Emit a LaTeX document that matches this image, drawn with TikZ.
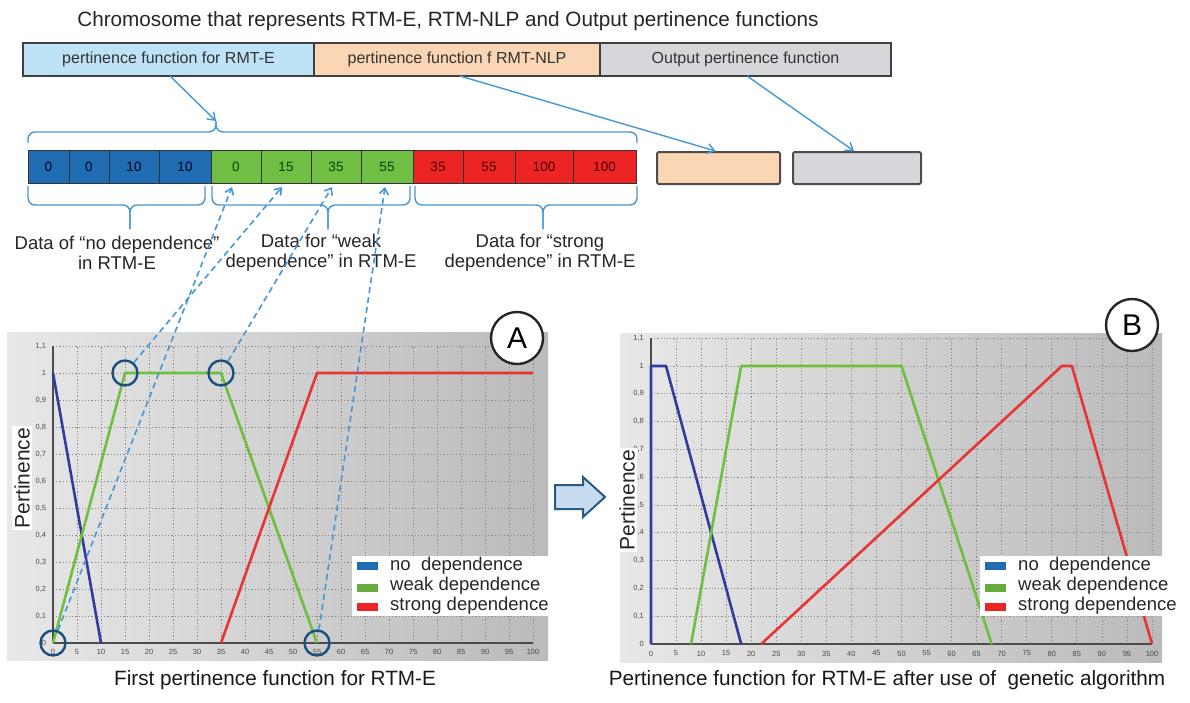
\documentclass[tikz,border=0pt]{standalone}
\usepackage{fontspec}
\setmainfont{Liberation Sans}
\usetikzlibrary{arrows.meta}
\newcommand{\myfs}[1]{\fontsize{#1}{#1}\selectfont}
\definecolor{cellblue}{RGB}{31,108,178}
\definecolor{cellgreen}{RGB}{112,190,68}
\definecolor{cellred}{RGB}{236,36,36}
\definecolor{barblue}{RGB}{190,226,246}
\definecolor{barorange}{RGB}{250,214,180}
\definecolor{bargrey}{RGB}{214,215,218}
\definecolor{linkblue}{RGB}{70,152,212}
\definecolor{circblue}{RGB}{25,80,125}
\definecolor{fnavy}{RGB}{50,58,160}
\definecolor{fgreen}{RGB}{108,192,62}
\definecolor{fred}{RGB}{232,52,52}
\definecolor{arrfill}{RGB}{200,220,240}
\definecolor{arrdraw}{RGB}{40,90,130}
\begin{document}
\begin{tikzpicture}[x=1pt,y=-1pt,
  barbox/.style={draw=black!75, line width=1.3pt, minimum height=33pt, inner sep=0pt, outer sep=0pt, font=\myfs{16}, text=black!80},
  cell/.style={draw=black!80, line width=1pt, minimum height=33pt, inner sep=0pt, outer sep=0pt, font=\myfs{13.5}},
  smallbox/.style={draw=black!70, line width=2pt, rounded corners=1.5pt, minimum height=32pt, inner sep=0pt},
  link/.style={draw=linkblue, line width=1.4pt, -{Straight Barb[length=7pt,width=10pt]}},
  bracel/.style={draw=linkblue, line width=1.4pt, rounded corners=7pt},
  dasharrow/.style={draw=linkblue, line width=1.6pt, dash pattern=on 6pt off 4pt, -{Straight Barb[length=6pt,width=9pt]}},
  lab/.style={align=center, font=\fontsize{18.5}{20}\selectfont, text=black!85, inner sep=0pt},
  gridl/.style={draw=black!45, line width=0.8pt, dash pattern=on 1.2pt off 2pt},
  axisl/.style={draw=black!70, line width=2pt},
  fcurve/.style={line width=2.6pt, line join=round},
  hl/.style={circle, draw=circblue, line width=2.4pt, minimum size=25pt, inner sep=0pt},
  tagc/.style={circle, draw=black!85, fill=white, line width=2.4pt, minimum size=52pt, inner sep=0pt, font=\myfs{30}},
  ticklab/.style={font=\myfs{7.5}, text=black!70, inner sep=1pt},
  legtxt/.style={anchor=west, font=\myfs{18.5}, text=black!85, inner sep=0pt},
  ylab/.style={rotate=90, fill=white, font=\myfs{21}, text=black!85, inner sep=2pt},
  capt/.style={font=\myfs{20.7}, text=black!90, inner sep=0pt},
]
\useasboundingbox (0,0) rectangle (1190,702);
\fill[white] (0,0) rectangle (1190,702);

% title
\node[font=\myfs{20.7}, text=black!85] (title) at (448,21) {Chromosome that represents RTM-E, RTM-NLP and Output pertinence functions};

% top bar
\node[barbox, fill=barblue, minimum width=291pt] (bar1) at (168.5,59.5) {pertinence function for RMT-E};
\node[barbox, fill=barorange, minimum width=286pt] (bar2) at (457,59.5) {pertinence function f RMT-NLP};
\node[barbox, fill=bargrey, minimum width=291pt] (bar3) at (745.5,59.5) {Output pertinence function};

% data cells
\node[cell, fill=cellblue, text=black!85!blue, minimum width=41pt] (b1) at (48.5,166.5) {0};
\node[cell, fill=cellblue, text=black!85!blue, minimum width=40pt] (b2) at (89,166.5) {0};
\node[cell, fill=cellblue, text=black!85!blue, minimum width=50pt] (b3) at (134,166.5) {10};
\node[cell, fill=cellblue, text=black!85!blue, minimum width=52pt] (b4) at (185,166.5) {10};
\node[cell, fill=cellgreen, text=black!70!green, minimum width=50pt] (g1) at (236,166.5) {0};
\node[cell, fill=cellgreen, text=black!70!green, minimum width=50pt] (g2) at (286,166.5) {15};
\node[cell, fill=cellgreen, text=black!70!green, minimum width=50pt] (g3) at (336,166.5) {35};
\node[cell, fill=cellgreen, text=black!70!green, minimum width=52pt] (g4) at (387,166.5) {55};
\node[cell, fill=cellred, text=black!70!red, minimum width=50pt] (r1) at (438,166.5) {35};
\node[cell, fill=cellred, text=black!70!red, minimum width=52pt] (r2) at (489,166.5) {55};
\node[cell, fill=cellred, text=black!70!red, minimum width=58pt] (r3) at (544,166.5) {100};
\node[cell, fill=cellred, text=black!70!red, minimum width=63pt] (r4) at (604.5,166.5) {100};

% small boxes
\node[smallbox, fill=barorange, minimum width=123pt] (ob) at (718.5,168) {};
\node[smallbox, fill=bargrey, minimum width=128pt] (gb) at (857,168) {};

% braces
\coordinate (tipT) at (216,121);
\draw[bracel] (28,143) |- (216,132) -- (tipT);
\draw[bracel] (637,143) |- (216,132) -- (tipT);
\draw[bracel] (28,186) |- (130,205) -- (130,229);
\draw[bracel] (205,186) |- (130,205) -- (130,229);
\draw[bracel] (212,186) |- (328,205) -- (328,229);
\draw[bracel] (410,186) |- (328,205) -- (328,229);
\draw[bracel] (415,186) |- (543,205) -- (543,229);
\draw[bracel] (637,186) |- (543,205) -- (543,229);

% links from top bar
\draw[link] ([xshift=1.5pt]bar1.south) -- (tipT);
\draw[link] ([xshift=3pt]bar2.south) -- ([xshift=-3pt]ob.north);
\draw[link] ([xshift=1.5pt]bar3.south) -- ([xshift=-3pt]gb.north);

% brace labels
\node[lab] (l1) at (117,253) {Data of “no dependence”\\in RTM-E};
\node[lab] (l2) at (321,253) {Data for “weak\\dependence” in RTM-E};
\node[lab] (l3) at (540,253) {Data for “strong\\dependence” in RTM-E};

% ---------------- chart A ----------------
\fill[left color=black!9, right color=black!27] (7,332) rectangle (548,660);
\begin{scope}[shift={(53,643)}, xscale=4.8, yscale=-270]
  \foreach \u in {5,10,...,100} \draw[gridl] (\u,0) -- (\u,1.1);
  \foreach \k in {1,...,11} \draw[gridl] (0,{\k/10}) -- (100,{\k/10});
  \draw[axisl] (0,0) -- (0,1.1);
  \draw[axisl] (0,0) -- (100,0);
  \foreach \k/\l in {0/0,1/{0,1},2/{0,2},3/{0,3},4/{0,4},5/{0,5},6/{0,6},7/{0,7},8/{0,8},9/{0,9},10/1,11/{1,1}}
    \node[ticklab, anchor=east] (ya\k) at (-1.2,{\k/10}) {\l};
  \foreach \u in {0,5,...,100}
    \node[ticklab, anchor=north] (xa\u) at (\u,-0.02) {\u};
  \draw[fcurve, fnavy] (0,1) -- (10,0);
  \draw[fcurve, fgreen] (0,0) -- (15,1) -- (35,1) -- (55,0);
  \draw[fcurve, fred] (35,0) -- (55,1) -- (100,1);
  \node[hl] (ca1) at (0,0) {};
  \node[hl] (ca2) at (15,1) {};
  \node[hl] (ca3) at (35,1) {};
  \node[hl] (ca4) at (55,0) {};
\end{scope}
\node[tagc] (tagA) at (517,338) {A};
\node[ylab] (pa) at (22,478) {Pertinence};
% legend A
\fill[white] (352,556) rectangle (556,616);
\fill[cellblue] (357,562) rectangle (378,570);
\fill[cellgreen!90!black] (357,584) rectangle (378,592);
\fill[cellred] (357,603) rectangle (378,611);
\node[legtxt] (la1) at (390,566) {no\ \ dependence};
\node[legtxt] (la2) at (390,586) {weak dependence};
\node[legtxt] (la3) at (390,606) {strong dependence};
\node[capt] (capA) at (275,680) {First pertinence function for RTM-E};

% ---------------- chart B ----------------
\fill[left color=black!9, right color=black!27] (620,333) rectangle (1162,662);
\begin{scope}[shift={(651,644)}, xscale=5.01, yscale=-278]
  \foreach \u in {5,10,...,100} \draw[gridl] (\u,0) -- (\u,1.1);
  \foreach \k in {1,...,11} \draw[gridl] (0,{\k/10}) -- (100,{\k/10});
  \draw[axisl] (0,0) -- (0,1.1);
  \draw[axisl] (0,0) -- (100,0);
  \foreach \k/\l in {0/0,1/{0,1},2/{0,2},3/{0,3},4/{0,4},5/{0,5},6/{0,6},7/{0,7},8/{0,8},9/{0,9},10/1,11/{1,1}}
    \node[ticklab, anchor=east] (yb\k) at (-1.2,{\k/10}) {\l};
  \foreach \u in {0,5,...,100}
    \node[ticklab, anchor=north] (xb\u) at (\u,-0.02) {\u};
  \draw[fcurve, fnavy] (0,0) -- (0,1) -- (3,1) -- (18,0);
  \draw[fcurve, fgreen] (8,0) -- (18,1) -- (50,1) -- (68,0);
  \draw[fcurve, fred] (22,0) -- (82,1) -- (84,1) -- (100,0);
\end{scope}
\node[tagc] (tagB) at (1132,325) {B};
\node[ylab] (pb) at (627,500) {Pertinence};
% legend B
\fill[white] (980,556) rectangle (1185,616);
\fill[cellblue] (985,562) rectangle (1006,570);
\fill[cellgreen!90!black] (985,584) rectangle (1006,592);
\fill[cellred] (985,603) rectangle (1006,611);
\node[legtxt] (lb1) at (1018,566) {no\ \ dependence};
\node[legtxt] (lb2) at (1018,586) {weak dependence};
\node[legtxt] (lb3) at (1018,606) {strong dependence};
\node[capt] (capB) at (887,680) {Pertinence function for RTM-E after use of\ \ genetic algorithm};

% dashed links from chart A to the cells
\draw[dasharrow] (ca1) -- ([xshift=-4pt,yshift=-4pt]g1.south);
\draw[dasharrow] (ca2) -- ([xshift=-4pt,yshift=-4pt]g2.south);
\draw[dasharrow] (ca3) -- ([xshift=-4pt,yshift=-4pt]g3.south);
\draw[dasharrow] (ca4) -- ([xshift=-2pt,yshift=-4pt]g4.south);

% block arrow between the charts
\draw[fill=arrfill, draw=arrdraw, line width=2pt, line join=miter]
  (555,485) -- (583,485) -- (583,477) -- (605,497) -- (583,517) -- (583,509) -- (555,509) -- cycle;
\end{tikzpicture}
\end{document}
